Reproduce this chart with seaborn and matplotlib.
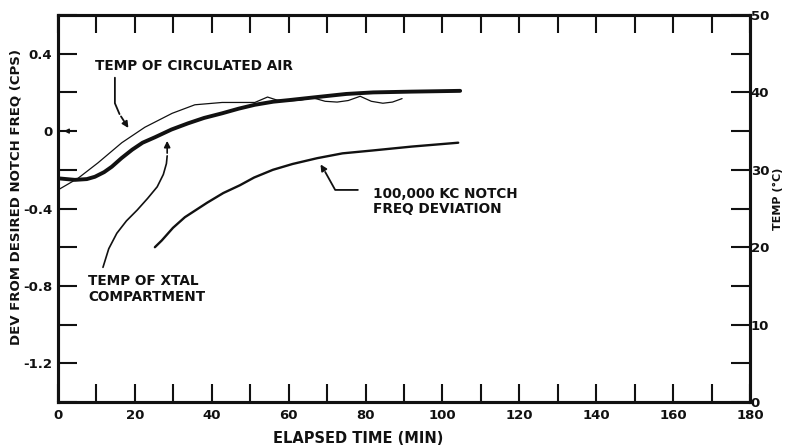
import numpy as np
import pandas as pd
import seaborn as sns
import matplotlib.pyplot as plt
from matplotlib.ticker import MultipleLocator

# notch frequency deviation (left axis, cps)
time_notch = [25.2, 27.0, 29.9, 33.0, 38.8, 43.0, 47.3, 51.0, 55.9, 61.0, 67.4, 74.0, 81.9, 92.0, 104.1]
dev_notch = [-0.60, -0.565, -0.50, -0.445, -0.37, -0.32, -0.28, -0.24, -0.20, -0.17, -0.14, -0.115, -0.10, -0.08, -0.06]

# temp of xtal compartment (right axis, deg C)
time_xtal = [0, 4.4, 7.5, 9.6, 12.0, 14.0, 16.5, 19.3, 22.0, 25.2, 29.5, 33.8, 38.0, 42.7, 47.0, 51.2,
             56.0, 60.0, 67.4, 75.0, 82.0, 92.0, 104.6]
temp_xtal = [28.9, 28.7, 28.8, 29.1, 29.7, 30.4, 31.5, 32.6, 33.5, 34.2, 35.2, 36.0, 36.7, 37.3, 37.9, 38.4,
             38.8, 39.0, 39.4, 39.8, 40.0, 40.1, 40.2]

# temp of circulated air (right axis, deg C)
time_air = [0, 5.2, 10.4, 16.6, 22.6, 29.7, 35.6, 42.7, 51.2, 54.5, 57.0, 60.0, 63.0, 66.3,
            69.5, 72.6, 75.5, 78.6, 81.5, 84.5, 87.0, 89.5]
temp_air = [27.4, 28.9, 30.9, 33.5, 35.5, 37.3, 38.4, 38.7, 38.7, 39.4, 39.0, 38.9, 39.0, 39.3,
            38.85, 38.75, 38.95, 39.5, 38.85, 38.6, 38.75, 39.2]

x_ticks = list(range(0, 181, 20))
left_ticks = [0.4, 0, -0.4, -0.8, -1.2]
left_labels = ['0.4', '0', '-0.4', '-0.8', '-1.2']
right_ticks = [0, 10, 20, 30, 40, 50]

ink = '#111111'
fs = 9.5
fs_note = 9.8

sns.set_style("white")
plt.rcParams['font.family'] = ['DejaVu Sans']
plt.rcParams['font.weight'] = 'bold'
plt.rcParams['text.color'] = ink
plt.rcParams['axes.labelcolor'] = ink
plt.rcParams['xtick.color'] = ink
plt.rcParams['ytick.color'] = ink

fig = plt.figure(figsize=(7.89, 4.45), dpi=100)
ax = fig.add_axes([0.0735, 0.0966, 0.8771, 0.8697])
ax2 = ax.twinx()

df_notch = pd.DataFrame({'t': time_notch, 'v': dev_notch})
df_xtal = pd.DataFrame({'t': time_xtal, 'T': temp_xtal})
df_air = pd.DataFrame({'t': time_air, 'T': temp_air})

sns.lineplot(data=df_notch, x='t', y='v', ax=ax, color=ink, lw=1.7, sort=False)
sns.lineplot(data=df_xtal, x='t', y='T', ax=ax2, color=ink, lw=2.8, sort=False)
sns.lineplot(data=df_air, x='t', y='T', ax=ax2, color=ink, lw=0.9, sort=False)

ax.set_xlim(0, 180)
ax.set_ylim(-1.4, 0.6)
ax2.set_ylim(0, 50)

ax.set_xticks(x_ticks)
ax.set_xticklabels([str(v) for v in x_ticks], fontsize=fs, fontweight='bold')
ax.xaxis.set_minor_locator(MultipleLocator(10))
ax.set_yticks(left_ticks)
ax.set_yticklabels(left_labels, fontsize=fs, fontweight='bold')
ax.yaxis.set_minor_locator(MultipleLocator(0.2))
ax2.set_yticks(right_ticks)
ax2.set_yticklabels([str(v) for v in right_ticks], fontsize=fs, fontweight='bold')
ax2.yaxis.set_minor_locator(MultipleLocator(5))

ax.tick_params(axis='x', which='both', direction='in', length=13, width=1.5,
               top=True, bottom=True, labeltop=False, pad=5)
ax.tick_params(axis='y', which='both', direction='in', length=14, width=1.5,
               left=True, right=False, pad=4)
ax2.tick_params(axis='y', which='both', direction='in', length=14, width=1.5,
                left=False, right=True, pad=0.5)

for a in (ax, ax2):
    for sp in a.spines.values():
        sp.set_linewidth(2.2)
        sp.set_color(ink)
        sp.set_visible(True)

ax.set_xlabel('ELAPSED TIME (MIN)', fontsize=10.5, fontweight='bold')
ax.xaxis.set_label_coords(0.434, -0.074)
ax.set_ylabel('DEV FROM DESIRED NOTCH FREQ (CPS)', fontsize=fs, fontweight='bold')
ax.yaxis.set_label_coords(-0.052, 0.53)
ax2.set_ylabel('TEMP (°C)', fontsize=8, fontweight='bold')
ax2.yaxis.set_label_coords(1.033, 0.525)

# labels with leaders
ax2.text(9.6, 43.4, 'TEMP OF CIRCULATED AIR', fontsize=fs_note, fontweight='bold', va='center', ha='left')
ax2.plot([14.8, 14.8, 16.0], [41.9, 38.6, 37.2], color=ink, lw=1.3)
ax2.annotate('', xy=(18.7, 35.1), xytext=(16.0, 37.2),
             arrowprops=dict(arrowstyle='-|>', color=ink, lw=1.3, mutation_scale=9))

ax2.text(7.8, 14.6, 'TEMP OF XTAL\nCOMPARTMENT', fontsize=fs_note, fontweight='bold',
         va='center', ha='left', linespacing=1.1)
ax2.plot([11.7, 13.2, 15.3, 17.8, 20.6, 23.3, 25.8, 27.4, 28.2, 28.4],
         [17.4, 19.8, 21.8, 23.4, 24.8, 26.3, 27.8, 29.4, 30.8, 31.8], color=ink, lw=1.2)
ax2.annotate('', xy=(28.4, 34.1), xytext=(28.4, 31.8),
             arrowprops=dict(arrowstyle='-|>', color=ink, lw=1.2, mutation_scale=9))

ax.text(82.0, -0.366, '100,000 KC NOTCH\nFREQ DEVIATION', fontsize=fs_note, fontweight='bold',
        va='center', ha='left', linespacing=1.1)
ax.plot([78.0, 72.1, 69.5], [-0.304, -0.304, -0.211], color=ink, lw=1.3)
ax.annotate('', xy=(67.9, -0.160), xytext=(69.5, -0.211),
            arrowprops=dict(arrowstyle='-|>', color=ink, lw=1.3, mutation_scale=9))

# small pointer on the zero tick
ax.annotate('', xy=(0.8, 0), xytext=(4.5, 0),
            arrowprops=dict(arrowstyle='-|>', color=ink, lw=1.0, mutation_scale=7))

plt.savefig('out.png', dpi=100)
